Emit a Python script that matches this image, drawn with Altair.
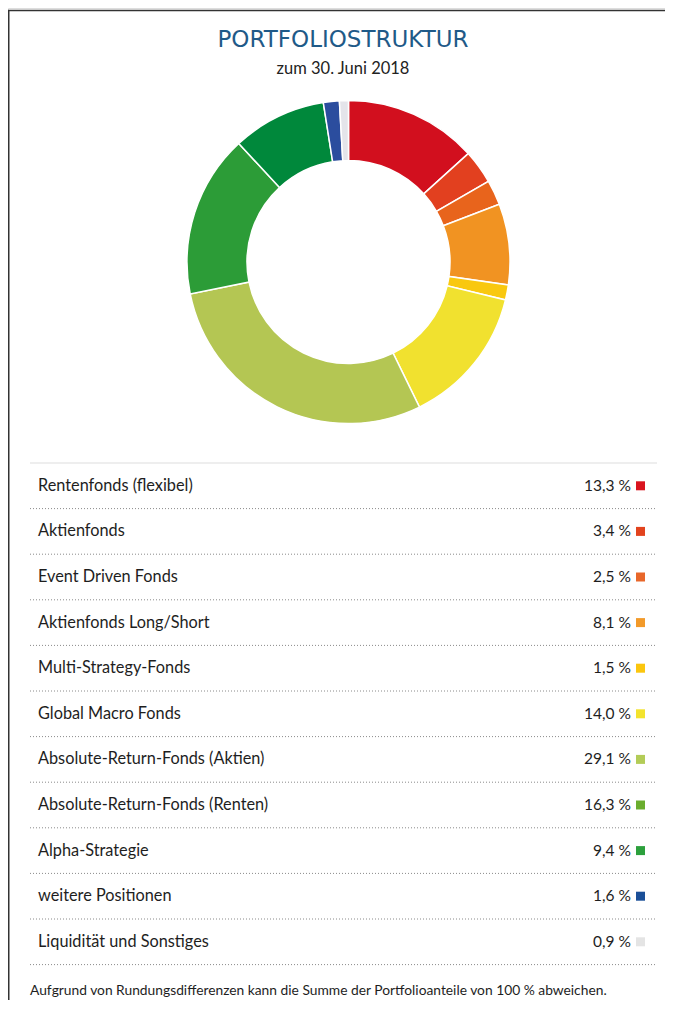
import altair as alt
import pandas as pd

categories = [
    "Rentenfonds (flexibel)",
    "Aktienfonds",
    "Event Driven Fonds",
    "Aktienfonds Long/Short",
    "Multi-Strategy-Fonds",
    "Global Macro Fonds",
    "Absolute-Return-Fonds (Aktien)",
    "Absolute-Return-Fonds (Renten)",
    "Alpha-Strategie",
    "weitere Positionen",
    "Liquidität und Sonstiges",
]
values = [13.3, 3.4, 2.5, 8.1, 1.5, 14.0, 29.1, 16.3, 9.4, 1.6, 0.9]
value_labels = ["13,3 %", "3,4 %", "2,5 %", "8,1 %", "1,5 %", "14,0 %",
                "29,1 %", "16,3 %", "9,4 %", "1,6 %", "0,9 %"]

arc_colors = ["#d20f1e", "#e2401f", "#e8641c", "#f19322", "#f9c80f", "#f1e12f",
              "#b4c653", "#2c9c37", "#00883b", "#2b4d9e", "#e4e4ea"]
square_colors = ["#d9141f", "#e2431e", "#e8672a", "#f29a2a", "#fbc60e", "#f3e32e",
                 "#b3cc57", "#6aad2e", "#2ca03c", "#1b4f98", "#e4e4e4"]

title_text = "PORTFOLIOSTRUKTUR"
subtitle_text = "zum 30. Juni 2018"
footer_text = "Aufgrund von Rundungsdifferenzen kann die Summe der Portfolioanteile von 100 % abweichen."

df = pd.DataFrame({
    "cat": categories,
    "value": values,
    "label": value_labels,
    "idx": list(range(len(categories))),
    "sep": [i + 0.5 for i in range(len(categories))],
})

FONT = "Lato"
W, H = 657, 992
CX, CY = 340.5, 254

row_scale = alt.Scale(domain=[-0.5, 10.5], range=[455, 956.6])

arcs = alt.Chart(df).mark_arc(
    outerRadius=161.5, innerRadius=101.5, stroke="white", strokeWidth=1.5
).encode(
    theta=alt.Theta("value:Q", stack=True),
    order=alt.Order("idx:Q"),
    color=alt.Color("cat:N", scale=alt.Scale(domain=categories, range=arc_colors), legend=None),
    x=alt.value(CX),
    y=alt.value(CY),
)

title = alt.Chart(pd.DataFrame({"t": [title_text]})).mark_text(
    font="DejaVu Sans", fontSize=23, fontWeight="normal", color="#1f5a88",
    align="center", baseline="middle"
).encode(text="t:N", x=alt.value(335), y=alt.value(32))

subtitle = alt.Chart(pd.DataFrame({"t": [subtitle_text]})).mark_text(
    font=FONT, fontSize=16.5, color="#222222", align="center", baseline="middle"
).encode(text="t:N", x=alt.value(335), y=alt.value(61))

top_line = alt.Chart(pd.DataFrame({"p": [-0.5]})).mark_rule(
    color="#dddddd", strokeWidth=1
).encode(y=alt.Y("p:Q", scale=row_scale, axis=None), x=alt.value(22), x2=alt.value(649))

dots = alt.Chart(df).mark_rule(
    color="#8a8a8a", strokeWidth=1, strokeDash=[1, 2]
).encode(y=alt.Y("sep:Q", scale=row_scale, axis=None), x=alt.value(22), x2=alt.value(649))

labels = alt.Chart(df).mark_text(
    font=FONT, fontSize=16.3, color="#1e1e1e", align="left", baseline="middle"
).encode(text="cat:N", y=alt.Y("idx:Q", scale=row_scale, axis=None), x=alt.value(30))

pct = alt.Chart(df).mark_text(
    font=FONT, fontSize=15.5, color="#1e1e1e", align="right", baseline="middle"
).encode(text="label:N", y=alt.Y("idx:Q", scale=row_scale, axis=None), x=alt.value(623))

squares = alt.Chart(df).mark_point(
    shape="square", filled=True, size=81, opacity=1
).encode(
    y=alt.Y("idx:Q", scale=row_scale, axis=None),
    x=alt.value(632.5),
    fill=alt.Fill("cat:N", scale=alt.Scale(domain=categories, range=square_colors), legend=None),
)

footer = alt.Chart(pd.DataFrame({"t": [footer_text]})).mark_text(
    font=FONT, fontSize=13.8, color="#1e1e1e", align="left", baseline="middle"
).encode(text="t:N", x=alt.value(22), y=alt.value(983))

border_left = alt.Chart(pd.DataFrame({"a": [0]})).mark_rule(color="#333333", strokeWidth=1.5).encode(
    x=alt.value(0.75), y=alt.value(2), y2=alt.value(H)
)
border_top = alt.Chart(pd.DataFrame({"a": [0]})).mark_rule(color="#333333", strokeWidth=1.5).encode(
    x=alt.value(0), x2=alt.value(W), y=alt.value(2.5)
)

chart = alt.layer(
    border_left, border_top, title, subtitle, arcs, top_line, dots,
    labels, pct, squares, footer
).resolve_scale(color="independent", fill="independent").properties(
    width=W, height=H, padding=0, autosize=alt.AutoSizeParams(type="none")
).configure_view(stroke=None).configure(background="white")

chart.save("out.html", embed_options={"renderer": "svg", "actions": False})
